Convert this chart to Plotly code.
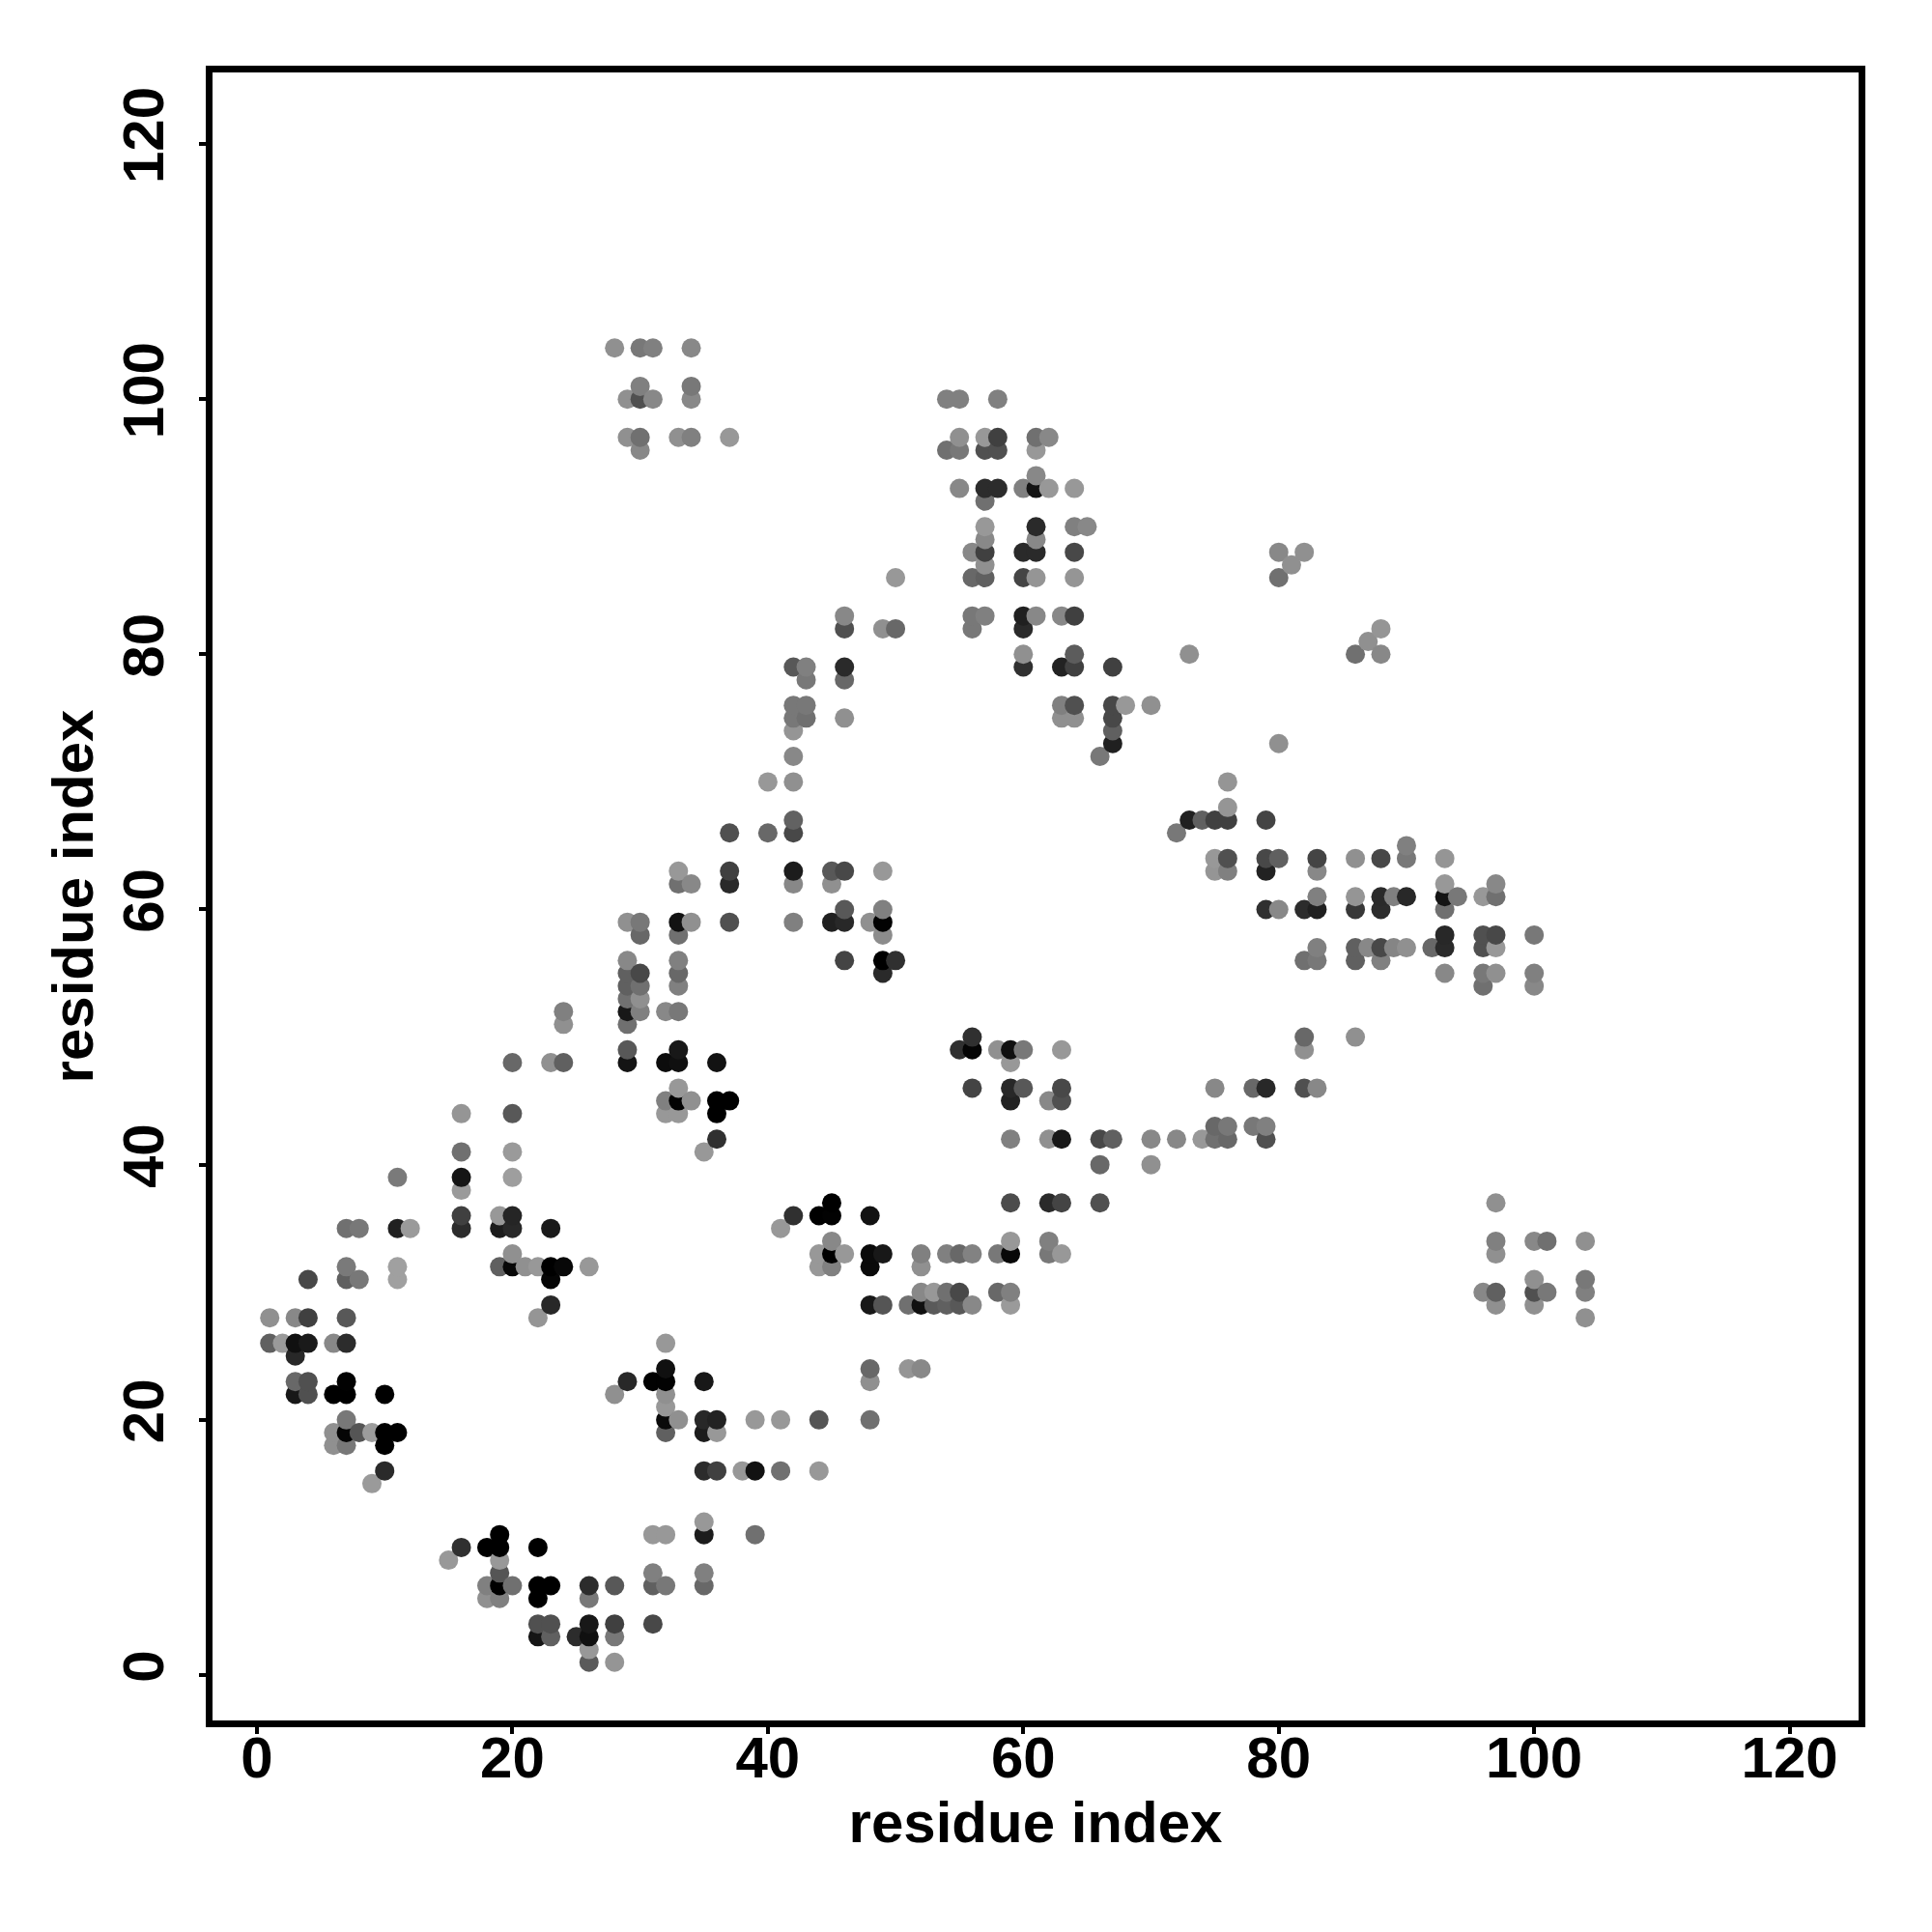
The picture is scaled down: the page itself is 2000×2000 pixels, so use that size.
import plotly.graph_objects as go

# One line per row of the plot: y value, then x values
contact_x = [
 28,30,31,34,
 30,34,
 29,30,31,34,54,55,58,
 29,30,33,34,37,55,57,58,61,62,
 30,54,55,57,58,61,
 61,
 55,57,58,60,61,62,64,
 57,
 57,61,64,65,
 57,61,
 56,57,60,61,64,80,82,
 57,81,
 50,56,57,60,61,64,80,
 46,56,57,60,61,63,64,
 46,49,50,56,60,88,
 87,
 60,64,73,86,88,
 42,43,46,60,63,64,67,
 43,46,
 42,43,63,64,67,68,70,
 42,43,46,63,64,67,
 42,67,
 67,80,
 42,66,
 40,42,76,
 76,
 42,73,74,75,76,79,
 37,40,42,72,
 90,
 75,76,79,80,83,86,88,90,93,
 33,37,42,45,46,49,75,76,79,83,
 33,34,37,42,45,93,97,
 83,86,88,89,90,93,94,96,97,
 46,49,79,80,82,83,86,88,93,
 29,30,33,34,37,42,45,46,48,49,
 30,33,49,93,96,97,100,
 83,86,87,88,89,90,92,93,96,97,
 29,33,46,49,50,82,83,86,88,
 29,30,33,49,93,96,97,100,
 29,30,33,96,100,
 29,30,
 24,29,30,32,33,
 24,29,
 56,82,86,
 29,33,55,56,58,59,60,63,82,
 20,23,24,29,32,33,36,59,
 33,56,59,60,63,75,78,79,82,83,
 32,33,34,36,37,59,62,63,
 16,20,32,33,36,
 75,76,78,79,
 36,59,62,63,66,67,70,72,74,75,76,79,
 16,20,35,
 66,70,
 11,16,20,
 16,
 45,59,62,63,66,97,
 16,19,20,42,44,45,48,
 7,8,11,12,16,19,20,23,41,
 45,59,62,97,100,101,104,
 20,44,45,46,48,49,52,54,55,56,58,59,62,63,97,
 7,11,19,20,21,22,23,24,26,44,45,48,52,
 4,7,8,11,23,100,104,
 52,53,54,55,58,59,96,97,100,101,104,
 23,48,49,51,52,53,54,55,56,59,97,100,
 1,3,4,7,22,104,
 1,2,3,4,6,7,32,
 3,
 32,48,51,52,
 3,4,7,29,31,32,35,48,
 3,4,6,7,10,28,32,
 32,
 7,32,33,35,36,39,41,44,48,
 6,7,8,9,10,11,32,35,36,
 6,7,10,
 10,35,36,38,39,41,44,
 9,
 35,
 19,31,32,35,39,
 16,18,19,22,
 15,19,
 19,31,35,
 18,19,20,22,23,26,28,31,32,35,
 18,19,22,26,
 22,23,26,28,31,
 22,23,25,26,28,
 26,
 26,28,
]
contact_y = [
 104,104,104,104,
 101,101,
 100,100,100,100,100,100,100,
 97,97,97,97,97,97,97,97,97,97,
 96,96,96,96,96,96,
 94,
 93,93,93,93,93,93,93,
 92,
 90,90,90,90,
 89,89,
 88,88,88,88,88,88,88,
 87,87,
 86,86,86,86,86,86,86,
 83,83,83,83,83,83,83,
 82,82,82,82,82,82,
 81,
 80,80,80,80,80,
 79,79,79,79,79,79,79,
 78,78,
 76,76,76,76,76,76,76,
 75,75,75,75,75,75,
 74,74,
 73,73,
 72,72,
 70,70,70,
 68,
 67,67,67,67,67,67,
 66,66,66,66,
 65,
 64,64,64,64,64,64,64,64,64,
 63,63,63,63,63,63,63,63,63,63,
 62,62,62,62,62,62,62,
 61,61,61,61,61,61,61,61,61,
 60,60,60,60,60,60,60,60,60,
 59,59,59,59,59,59,59,59,59,59,
 58,58,58,58,58,58,58,
 57,57,57,57,57,57,57,57,57,57,
 56,56,56,56,56,56,56,56,56,
 55,55,55,55,55,55,55,55,
 54,54,54,54,54,
 53,53,
 52,52,52,52,52,
 51,51,
 50,50,50,
 49,49,49,49,49,49,49,49,49,
 48,48,48,48,48,48,48,48,
 46,46,46,46,46,46,46,46,46,46,
 45,45,45,45,45,45,45,45,
 44,44,44,44,44,
 43,43,43,43,
 42,42,42,42,42,42,42,42,42,42,42,42,
 41,41,41,
 40,40,
 39,39,39,
 38,
 37,37,37,37,37,37,
 36,36,36,36,36,36,36,
 35,35,35,35,35,35,35,35,35,
 34,34,34,34,34,34,34,
 33,33,33,33,33,33,33,33,33,33,33,33,33,33,33,
 32,32,32,32,32,32,32,32,32,32,32,32,32,
 31,31,31,31,31,31,31,
 30,30,30,30,30,30,30,30,30,30,30,
 29,29,29,29,29,29,29,29,29,29,29,29,
 28,28,28,28,28,28,
 26,26,26,26,26,26,26,
 25,
 24,24,24,24,
 23,23,23,23,23,23,23,23,
 22,22,22,22,22,22,22,
 21,
 20,20,20,20,20,20,20,20,20,
 19,19,19,19,19,19,19,19,19,
 18,18,18,
 16,16,16,16,16,16,16,
 15,
 12,
 11,11,11,11,11,
 10,10,10,10,
 9,9,
 8,8,8,
 7,7,7,7,7,7,7,7,7,7,
 6,6,6,6,
 4,4,4,4,4,
 3,3,3,3,3,
 2,
 1,1,
]
contact_gray = [
 0x90,0x78,0x80,0x88,
 0x80,0x78,
 0x90,0x50,0x88,0x88,0x80,0x80,0x80,
 0x90,0x70,0x90,0x80,0x98,0x90,0x98,0x40,0x70,0x88,
 0x88,0x70,0x78,0x50,0x50,0x98,
 0x88,
 0x88,0x2c,0x2c,0x80,0x14,0x98,0x98,
 0x70,
 0x98,0x2a,0x80,0x88,
 0x88,0x88,
 0x88,0x40,0x2a,0x2a,0x48,0x88,0x90,
 0x90,0x90,
 0x98,0x68,0x60,0x45,0x95,0x95,0x70,
 0x88,0x78,0x80,0x20,0x88,0x88,0x40,
 0x50,0x90,0x68,0x78,0x2a,0x95,
 0x90,
 0x90,0x5c,0x90,0x70,0x88,
 0x58,0x80,0x2a,0x30,0x22,0x40,0x40,
 0x78,0x68,
 0x78,0x78,0x80,0x50,0x48,0x98,0x90,
 0x78,0x70,0x90,0x90,0x90,0x48,
 0x95,0x60,
 0x20,0x90,
 0x88,0x78,
 0x98,0x90,0x95,
 0x95,
 0x62,0x20,0x60,0x40,0x40,0x44,
 0x50,0x68,0x48,0x78,
 0x80,
 0x98,0x50,0x48,0x60,0x44,0x90,0x48,0x78,0x95,
 0x98,0x40,0x1c,0x58,0x48,0x98,0x95,0x80,0x22,0x88,
 0x70,0x88,0x2a,0x88,0x90,0x98,0x88,
 0x80,0x95,0x2a,0x80,0x28,0x14,0x78,0x98,0x70,
 0x58,0x80,0x30,0x88,0x2c,0x20,0x38,0x2c,0x70,
 0x90,0x78,0x12,0x90,0x50,0x80,0x20,0x28,0x90,0x02,
 0x68,0x70,0x8c,0x28,0x50,0x48,0x78,
 0x80,0x60,0x88,0x48,0x85,0x90,0x68,0x2a,0x50,0x98,
 0x88,0x80,0x44,0x00,0x30,0x70,0x78,0x60,0x80,
 0x60,0x48,0x68,0x2a,0x88,0x78,0x90,0x80,
 0x60,0x70,0x80,0x70,0x88,
 0x70,0x90,
 0x80,0x18,0x80,0x88,0x78,
 0x90,0x70,
 0x30,0x68,0x90,
 0x58,0x18,0x30,0x05,0x90,0x10,0x78,0x98,0x90,
 0x68,0x90,0x60,0x14,0x0c,0x10,0x12,0x98,
 0x98,0x44,0x28,0x58,0x48,0x88,0x68,0x28,0x50,0x88,
 0x80,0x02,0x90,0x00,0x00,0x22,0x88,0x50,
 0x95,0x58,0x98,0x98,0x00,
 0x68,0x78,0x78,0x80,
 0x30,0x80,0x90,0x18,0x48,0x60,0x88,0x88,0x98,0x70,0x68,0x50,
 0x70,0x9a,0x98,
 0x68,0x90,
 0x7a,0x15,0x9e,
 0x9a,
 0x00,0x4c,0x2a,0x44,0x50,0x90,
 0x40,0x98,0x25,0x30,0x00,0x02,0x12,
 0x70,0x78,0x20,0x9a,0x2c,0x1c,0x28,0x1a,0x98,
 0x88,0x98,0x80,0x80,0x88,0x70,0x90,
 0x90,0x98,0x00,0x98,0x0a,0x18,0x80,0x80,0x68,0x82,0x78,0x08,0x78,0x98,0x90,
 0x7a,0xa0,0x60,0x08,0x90,0x98,0x00,0x08,0x98,0x98,0x80,0x0a,0x90,
 0x48,0x60,0x78,0xa0,0x05,0x90,0x78,
 0x88,0x98,0x70,0x48,0x68,0x80,0x88,0x60,0x50,0x78,0x80,
 0x28,0x18,0x55,0x70,0x10,0x5a,0x60,0x58,0x88,0x9a,0x90,0x90,
 0x90,0x88,0x40,0x58,0x95,0x90,
 0x60,0x9a,0x10,0x1a,0x88,0x2c,0x98,
 0x28,
 0x10,0x68,0x95,0x88,
 0x68,0x50,0x02,0x28,0x02,0x02,0x18,0x90,
 0x18,0x50,0x00,0x00,0x00,0x90,0x90,
 0x98,
 0x78,0x0a,0x90,0x28,0x22,0x98,0x98,0x55,0x70,
 0x90,0x05,0x55,0x9c,0x00,0x00,0x60,0x1c,0x98,
 0x90,0x78,0x00,
 0x2a,0x2c,0x40,0x98,0x12,0x70,0x98,
 0x9a,
 0x98,
 0x00,0x98,0x98,0x1c,0x70,
 0x30,0x00,0x00,0x00,
 0x98,0x98,
 0x55,0x80,0x80,
 0x80,0x00,0x70,0x00,0x00,0x2c,0x58,0x60,0x78,0x68,
 0x90,0x80,0x00,0x78,
 0x50,0x50,0x18,0x40,0x48,
 0x15,0x60,0x2c,0x10,0x78,
 0x98,
 0x5a,0x95,
]
tick_values = [0, 20, 40, 60, 80, 100, 120]
axis_label = "residue index"

assert len(contact_x) == len(contact_y) == len(contact_gray), (len(contact_x), len(contact_y), len(contact_gray))

order = sorted(range(len(contact_x)), key=lambda k: (contact_x[k], contact_y[k]))
FONT = "Liberation Sans"

fig = go.Figure(go.Scatter(
    x=[contact_x[k] for k in order],
    y=[contact_y[k] for k in order],
    mode="markers",
    marker=dict(size=20, symbol="circle", line=dict(width=0),
                color=[f"rgb({contact_gray[k]},{contact_gray[k]},{contact_gray[k]})" for k in order]),
    hoverinfo="skip",
))

axis_common = dict(
    showgrid=False, zeroline=False, showline=True, mirror=True,
    linecolor="black", linewidth=7,
    ticks="outside", ticklen=7, tickwidth=4, tickcolor="black",
    tickmode="array", tickvals=tick_values, ticktext=[str(v) for v in tick_values],
    tickfont=dict(family=FONT, size=60, color="black", weight="bold"),
)
fig.update_layout(
    width=2000, height=2000, autosize=False, showlegend=False,
    paper_bgcolor="white", plot_bgcolor="white",
    margin=dict(l=212, r=84, t=67, b=227, pad=0),
    xaxis=dict(range=[-3.48, 125.4], ticklabelstandoff=-27,
               title=dict(text=axis_label, standoff=11,
                          font=dict(family=FONT, size=60, color="black", weight="bold")),
               **axis_common),
    yaxis=dict(range=[-3.56, 125.6], tickangle=-90, ticklabelstandoff=13,
               title=dict(text=axis_label, standoff=2,
                          font=dict(family=FONT, size=60, color="black", weight="bold")),
               **axis_common),
)
fig.write_html("out.html")
